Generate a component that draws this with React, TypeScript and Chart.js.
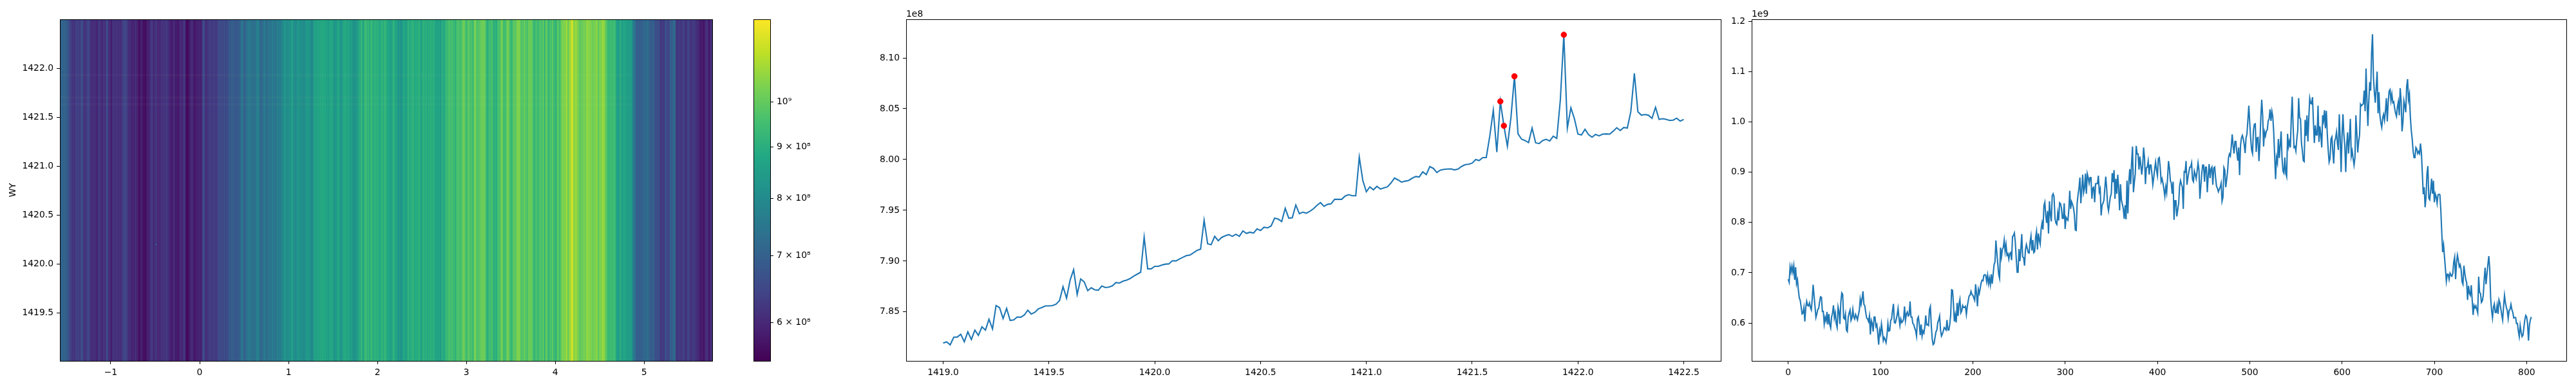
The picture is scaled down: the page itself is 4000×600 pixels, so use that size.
import React, { useEffect, useRef } from "react";
import { Chart, registerables } from "chart.js";

Chart.register(...registerables);

// Panel 2: total over WX against WY, 1e5 units (7819 = 7.819e8)
const wyStart = 1419;
const wyStepDivisor = 60;
const wyTotals = [
  7819.3,7820.5,7817.6,7825.1,7825.3,7828,7820.7,7830.4,7822.9,7832.1,7827,7835.3,7832.1,7842.8,7833.3,7856.3,7854.2,7843.5,7853.4,7841.6,
  7842.1,7845,7844.8,7846.9,7851.7,7847.9,7849.6,7853,7854.4,7855.9,7855.9,7856.3,7857.6,7861.2,7874.8,7863.6,7881.3,7891.5,7867.2,7882.5,
  7879.6,7870.9,7873.8,7871.8,7871.4,7875.5,7874,7874.5,7875.7,7878.9,7878.4,7880.3,7881.3,7882.8,7885.2,7887.1,7889,7923.7,7892.4,7892.4,
  7894.9,7894.9,7896.1,7897,7897.3,7900.4,7900.2,7902.1,7903.8,7905.5,7906,7908.2,7910.6,7911.8,7940.2,7917.1,7916.2,7924.4,7920.1,7923.4,
  7924.9,7926.1,7924.4,7926.4,7924.4,7929.7,7927.3,7928.5,7927.6,7931.7,7930.2,7933.4,7932.7,7934.6,7942.3,7941.4,7939,7952,7942.3,7942.6,
  7955.2,7946.7,7948.2,7947.2,7949.1,7951.5,7954.9,7957.6,7954,7955.9,7956.4,7960.8,7960.8,7960.8,7964.1,7965.4,7964.4,7964.4,8002.4,7979.4,
  7968.3,7973.1,7970.2,7973.6,7970.9,7972.1,7973.1,7977,7981.8,7979.9,7977.7,7978.7,7979.4,7981.6,7983.3,7982.8,7987.9,7985.2,7993,7991.3,
  7987.2,7989.6,7990.3,7990.6,7990.8,7989.8,7990.6,7993.2,7994.9,7995.4,7996.4,8000,7999,8001.9,8001.9,8023,8048.5,8007.3,8057.2,8033.2,
  8013.1,8041.2,8081.9,8025.4,8020.1,8018.7,8016.7,8031,8016.5,8015.7,8018.7,8019.9,8018.2,8023,8020.8,8058.1,8122.8,8031,8050.9,8040.2,
  8025,8024.2,8029.8,8024.5,8022,8024.7,8023.3,8025,8025.2,8025,8027.9,8031.3,8028.6,8031.5,8031,8047.2,8084.8,8047,8043.6,8044.3,
  8043.6,8040.5,8051.4,8039.5,8040.2,8039.5,8038.5,8038.8,8040.7,8037.8,8039.5,
];
const peakIndices = [158, 159, 162, 176];

// Panel 3 / heatmap columns: total over WY against index, millions
const wxTotalsA = [
  687,681,712,701,713,701,714,686,711,678,686,665,650,645,632,618,620,631,603,631,
  643,635,634,640,631,626,648,676,654,633,611,618,627,629,642,652,651,623,623,598,
  611,604,622,597,618,597,590,612,620,635,610,620,599,591,632,623,598,642,660,657,
  610,608,618,586,583,612,620,626,605,610,627,612,608,617,612,606,616,625,648,637,
  648,663,637,634,620,610,608,603,614,577,605,599,583,612,612,593,597,578,557,586,
  578,598,583,565,571,567,561,576,599,584,585,605,608,625,638,601,600,607,616,629,
  610,595,608,601,603,608,633,605,618,622,614,616,643,612,612,599,597,590,585,574,
  608,612,597,576,597,574,584,580,593,615,596,597,595,627,633,595,568,557,559,571,
  582,586,601,
];
const wxTotalsB = [
  606,614,586,574,578,584,591,589,586,606,586,586,597,616,666,665,638,603,616,601,
  640,614,638,647,620,624,635,631,631,633,617,633,644,654,655,663,657,655,650,645,
  677,659,633,667,659,669,680,685,684,695,696,695,682,695,678,689,676,697,678,697,
  716,721,764,740,718,697,689,750,731,746,750,765,742,756,735,738,727,738,740,725,
  772,774,779,761,729,701,701,747,723,746,777,731,730,714,746,756,748,740,739,761,
  773,744,765,740,742,770,782,746,778,765,757,787,799,786,833,840,814,799,823,778,
  842,816,802,853,857,851,808,799,796,819,804,839,837,829,808,808,838,787,810,806,
  804,825,863,827,841,836,829,816,785,784,838,855,868,889,838,865,895,859,868,897,857,
];
const wxTotalsC = [
  897,889,878,889,889,847,868,870,840,877,877,877,893,861,867,814,834,838,844,868,
  891,868,834,823,838,851,857,898,880,904,847,887,857,895,868,824,876,844,836,827,
  807,834,806,883,818,880,906,876,919,951,860,880,897,952,936,936,905,931,914,895,
  914,949,929,876,909,910,922,895,914,914,897,875,889,906,920,904,893,927,929,910,
  881,887,878,866,852,871,859,889,922,908,883,878,857,881,805,843,843,812,825,838,
  872,883,876,870,827,901,900,922,875,889,900,910,910,918,885,881,902,895,887,902,
  918,904,847,872,897,914,914,881,910,910,860,893,916,888,906,910,875,908,910,889,
  872,868,861,866,870,878,842,850,909,904,870,885,902,929,936,932,951,975,953,937,961,
];
const wxTotalsD = [
  961,940,923,949,894,953,968,973,966,955,938,968,976,1004,1032,998,968,944,937,983,
  995,996,940,968,969,922,957,1008,1044,1013,951,980,972,982,984,1002,1006,1025,1002,1021,
  1010,978,932,886,929,919,966,928,953,981,927,902,898,929,898,891,976,951,961,949,
  1008,1050,991,949,951,942,966,983,1047,1008,1006,959,942,923,921,1004,972,1013,961,1008,
  1047,1037,1036,1049,1000,958,993,974,974,1032,960,991,974,949,1013,1002,1023,987,1022,976,
  944,920,927,966,970,940,917,961,968,980,957,944,1015,966,900,974,1015,974,953,900,
  953,979,937,968,1006,932,942,927,914,929,1013,978,939,961,974,1035,1032,1034,1036,1062,
  1021,1106,1042,992,1042,1079,1062,1136,1174,1089,1059,1038,1068,1100,1017,1059,1013,998,989,1008,1015,
];
const wxTotalsE = [
  1003,1021,1047,1001,1038,1061,1064,1042,1055,1038,1040,1027,1017,1011,1030,1040,1013,1067,1042,981,
  1000,1042,1032,1019,1070,1085,1044,1055,1010,983,966,942,929,929,949,946,937,941,937,957,
  938,897,856,870,830,851,897,912,848,845,863,887,857,883,840,857,851,838,855,856,
  855,825,782,741,755,731,708,683,697,697,687,699,695,693,699,721,731,687,719,735,
  725,712,716,706,682,677,714,699,687,680,646,674,659,655,675,646,616,635,630,634,
  627,620,692,661,659,641,644,655,687,710,677,697,716,733,708,650,625,610,631,638,
  621,621,635,618,646,640,629,616,606,633,655,640,631,625,609,625,627,637,627,621,
  610,611,611,599,599,584,573,595,582,573,576,591,606,615,612,599,565,595,606,612,
];
const wxTotals = [...wxTotalsA, ...wxTotalsB, ...wxTotalsC, ...wxTotalsD, ...wxTotalsE];

// Axis limits and ticks
const heatXTicks = [-1, 0, 1, 2, 3, 4, 5];
const heatYTicks = [1419.5, 1420, 1420.5, 1421, 1421.5, 1422];
const panel2XTicks = [1419, 1419.5, 1420, 1420.5, 1421, 1421.5, 1422, 1422.5];
const panel2YTicks = [7850, 7900, 7950, 8000, 8050, 8100];
const panel3XTicks = [0, 100, 200, 300, 400, 500, 600, 700, 800];
const panel3YTicks = [600, 700, 800, 900, 1000, 1100, 1200];
const cbarTicks = [600, 700, 800, 900, 1000];
const cbarLabels = ["6 × 10⁸", "7 × 10⁸", "8 × 10⁸", "9 × 10⁸", "10⁹"];
const colorMin = 549;
const colorMax = 1210;
const heatRowBands = [1421.93, 1421.7, 1421.63];
const hotPixel = [{ x: -0.49, y: 1420.2 }];

const viridis = ["#440154", "#482475", "#414487", "#355f8d", "#2a788e", "#21918c", "#22a884", "#44bf70", "#7ad151", "#bddf26", "#fde725"];

const FONT = { family: "'DejaVu Sans'", size: 13.9 };
const INK = "#000000";

function hexToRgb(h: string) {
  return [1, 3, 5].map((i) => parseInt(h.slice(i, i + 2), 16));
}
function colorFor(v: number) {
  const t = Math.min(1, Math.max(0, Math.log(v / colorMin) / Math.log(colorMax / colorMin)));
  const p = t * (viridis.length - 1);
  const i = Math.min(viridis.length - 2, Math.floor(p));
  const a = hexToRgb(viridis[i]);
  const b = hexToRgb(viridis[i + 1]);
  const f = p - i;
  return `rgb(${a.map((c, k) => Math.round(c + (b[k] - c) * f)).join(",")})`;
}

const framePlugin = (offsetText?: string) => ({
  id: "frame",
  afterDatasetsDraw(chart: any) {
    const { ctx, chartArea: a } = chart;
    ctx.save();
    ctx.strokeStyle = INK;
    ctx.lineWidth = 1;
    ctx.strokeRect(Math.round(a.left) + 0.5, Math.round(a.top) + 0.5, Math.round(a.right - a.left), Math.round(a.bottom - a.top));
    if (offsetText) {
      ctx.fillStyle = INK;
      ctx.font = `${FONT.size}px ${FONT.family}`;
      ctx.textAlign = "left";
      ctx.textBaseline = "alphabetic";
      ctx.fillText(offsetText, a.left, a.top - 4);
    }
    ctx.restore();
  },
});

function axis(min: number, max: number, ticks: number[], fmt: (v: number) => string, fit: number, isX: boolean, extra: any = {}) {
  return {
    type: "linear",
    min,
    max,
    offset: false,
    afterBuildTicks: (s: any) => {
      s.ticks = ticks.map((value) => ({ value }));
    },
    afterFit: (s: any) => {
      if (isX) s.height = fit;
      else s.width = fit;
    },
    border: { display: false },
    grid: { display: true, offset: false, drawOnChartArea: false, drawTicks: true, tickLength: 5, tickColor: INK, tickWidth: 1 },
    ticks: { autoSkip: false, maxRotation: 0, padding: 5, color: INK, font: FONT, callback: (v: any) => fmt(Number(v)) },
    ...extra,
  };
}

const baseOptions = (padding: any, scales: any) => ({
  animation: false,
  responsive: false,
  devicePixelRatio: 1,
  events: [],
  layout: { padding },
  plugins: { legend: { display: false }, tooltip: { enabled: false }, title: { display: false } },
  scales,
});

const minusFmt = (v: number) => String(v).replace("-", "\u2212");

export default function App() {
  const heatRef = useRef<HTMLCanvasElement>(null);
  const cbarRef = useRef<HTMLCanvasElement>(null);
  const lineARef = useRef<HTMLCanvasElement>(null);
  const lineBRef = useRef<HTMLCanvasElement>(null);

  useEffect(() => {
    const wxMin = -1.572;
    const wxMax = 5.766;
    const n = wxTotals.length;
    const columnStep = (wxMax - wxMin) / n;
    const wyMin = 1419.01;
    const wyMax = 1422.5;

    const heat = new Chart(heatRef.current as any, {
      type: "bar",
      data: {
        datasets: [
          {
            type: "bar",
            data: wxTotals.map((_, i) => ({ x: wxMin + (i + 0.5) * columnStep, y: [wyMin, wyMax] })),
            backgroundColor: wxTotals.map(colorFor),
            borderWidth: 0,
            barThickness: 2,
            order: 3,
          },
          ...heatRowBands.map((y) => ({
            type: "line",
            data: [{ x: wxMin, y }, { x: 4.85, y }],
            borderColor: "rgba(255,255,160,0.025)",
            borderWidth: 4,
            pointRadius: 0,
            order: 2,
          })),
          {
            type: "scatter",
            data: hotPixel,
            backgroundColor: "#2a9d9d",
            pointRadius: 0.8,
            pointBorderWidth: 0,
            order: 1,
          },
        ],
      } as any,
      options: baseOptions(
        { top: 30, right: 24, left: 0, bottom: 0 },
        {
          x: axis(wxMin, wxMax, heatXTicks, minusFmt, 39, true),
          y: axis(wyMin, wyMax, heatYTicks, (v) => v.toFixed(1), 93, false, {
            title: { display: true, text: "WY", color: INK, font: FONT, padding: { top: 12, bottom: 0 } },
          }),
        }
      ) as any,
      plugins: [framePlugin()],
    });

    const cbar = new Chart(cbarRef.current as any, {
      type: "bar",
      data: {
        labels: [""],
        datasets: [
          {
            data: [[colorMin, colorMax]],
            borderWidth: 0,
            barPercentage: 1,
            categoryPercentage: 1,
            backgroundColor: (c: any) => {
              const area = c.chart.chartArea;
              if (!area) return viridis[0];
              const g = c.chart.ctx.createLinearGradient(0, area.bottom, 0, area.top);
              viridis.forEach((h, i) => g.addColorStop(i / (viridis.length - 1), h));
              return g;
            },
          },
        ],
      } as any,
      options: baseOptions(
        { top: 30, left: 20, right: 0, bottom: 39 },
        {
          x: { display: false },
          y: {
            type: "logarithmic",
            position: "right",
            min: colorMin,
            max: colorMax,
            afterBuildTicks: (s: any) => {
              s.ticks = cbarTicks.map((value) => ({ value }));
            },
            afterFit: (s: any) => {
              s.width = 204;
            },
            border: { display: false },
            grid: { display: true, drawOnChartArea: false, drawTicks: true, tickLength: 5, tickColor: INK, tickWidth: 1 },
            ticks: {
              autoSkip: false,
              padding: 5,
              color: INK,
              font: FONT,
              callback: (v: any) => cbarLabels[cbarTicks.indexOf(Number(v))],
            },
          },
        }
      ) as any,
      plugins: [framePlugin()],
    });

    const wyPoints = wyTotals.map((y, i) => ({ x: wyStart + i / wyStepDivisor, y }));
    const lineA = new Chart(lineARef.current as any, {
      type: "line",
      data: {
        datasets: [
          { data: wyPoints, borderColor: "#1f77b4", borderWidth: 2.1, pointRadius: 0, tension: 0, order: 2 },
          {
            data: peakIndices.map((i) => wyPoints[i]),
            showLine: false,
            pointRadius: 4.3,
            pointBackgroundColor: "#ff0000",
            pointBorderColor: "#ff0000",
            pointBorderWidth: 1,
            order: 1,
          },
        ],
      } as any,
      options: baseOptions(
        { top: 30, right: 8, left: 0, bottom: 0 },
        {
          x: axis(1418.825, 1422.675, panel2XTicks, (v) => v.toFixed(1), 39, true),
          y: axis(7801.8, 8138, panel2YTicks, (v) => (v / 1000).toFixed(2), 67, false),
        }
      ) as any,
      plugins: [framePlugin("1e8")],
    });

    const lineB = new Chart(lineBRef.current as any, {
      type: "line",
      data: {
        datasets: [
          {
            data: wxTotals.map((y, x) => ({ x, y })),
            borderColor: "#1f77b4",
            borderWidth: 2.1,
            pointRadius: 0,
            tension: 0,
          },
        ],
      } as any,
      options: baseOptions(
        { top: 30, right: 15, left: 0, bottom: 0 },
        {
          x: axis(-39.6, 843, panel3XTicks, (v) => String(v), 39, true),
          y: axis(524.6, 1203.9, panel3YTicks, (v) => (v / 1000).toFixed(1), 44, false),
        }
      ) as any,
      plugins: [framePlugin("1e9")],
    });

    return () => {
      heat.destroy();
      cbar.destroy();
      lineA.destroy();
      lineB.destroy();
    };
  }, []);

  const place = (left: number, width: number): React.CSSProperties => ({ position: "absolute", left, top: 0, width, height: 600 });

  return (
    <div style={{ position: "absolute", left: 0, top: 0, width: 4000, height: 600, background: "#ffffff", overflow: "hidden" }}>
      <canvas ref={heatRef} width={1130} height={600} style={place(0, 1130)} />
      <canvas ref={cbarRef} width={250} height={600} style={place(1150, 250)} />
      <canvas ref={lineARef} width={1340} height={600} style={place(1340, 1340)} />
      <canvas ref={lineBRef} width={1324} height={600} style={place(2676, 1324)} />
    </div>
  );
}
